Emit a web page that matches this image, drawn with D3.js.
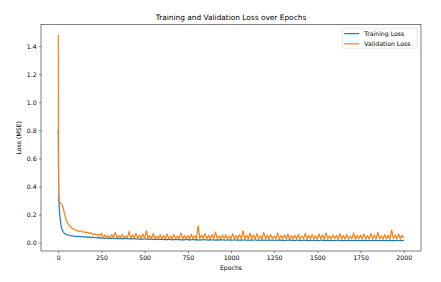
<!DOCTYPE html>
<html>
<head>
<meta charset="utf-8">
<script src="https://cdn.jsdelivr.net/npm/d3@7"></script>
<style>
  body { margin: 0; background: #fff; }
  text { font-family: "DejaVu Sans", sans-serif; fill: #000; }
</style>
</head>
<body>
<script>
// values
var earlyEpochs = [0, 1, 2, 3, 4, 5, 7, 10, 15, 20, 25, 30, 35, 40, 45, 50];
var epochs = earlyEpochs.concat(d3.range(60, 2001, 10));

var trainLoss = [
  0.81, 0.6, 0.45, 0.36, 0.3, 0.26, 0.22, 0.18, 0.13, 0.1, 0.085, 0.075, 0.068, 0.063, 0.06, 0.057,
  0.053, 0.05, 0.048, 0.046, 0.045, 0.043, 0.046, 0.041, 0.044, 0.04,
  0.042, 0.038, 0.041, 0.036, 0.039, 0.035, 0.037, 0.034, 0.036, 0.032,
  0.034, 0.03, 0.033, 0.029, 0.032, 0.03, 0.034, 0.028, 0.031, 0.029,
  0.03, 0.027, 0.031, 0.028, 0.03, 0.026, 0.029, 0.027, 0.03, 0.025,
  0.028, 0.025, 0.027, 0.024, 0.028, 0.025, 0.027, 0.023, 0.026, 0.024,
  0.025, 0.022, 0.026, 0.023, 0.025, 0.021, 0.024, 0.022, 0.025, 0.021,
  0.023, 0.02, 0.024, 0.021, 0.023, 0.019, 0.022, 0.02, 0.024, 0.02,
  0.022, 0.019, 0.023, 0.02, 0.022, 0.018, 0.021, 0.019, 0.023, 0.019,
  0.021, 0.018, 0.022, 0.019, 0.021, 0.018, 0.02, 0.018, 0.022, 0.019,
  0.02, 0.017, 0.021, 0.018, 0.02, 0.017, 0.021, 0.018, 0.02, 0.017,
  0.02, 0.017, 0.021, 0.017, 0.019, 0.016, 0.02, 0.017, 0.021, 0.017,
  0.019, 0.016, 0.02, 0.017, 0.019, 0.016, 0.02, 0.017, 0.019, 0.016,
  0.019, 0.016, 0.02, 0.016, 0.018, 0.015, 0.019, 0.016, 0.02, 0.016,
  0.018, 0.015, 0.019, 0.016, 0.018, 0.015, 0.019, 0.016, 0.018, 0.015,
  0.018, 0.015, 0.019, 0.015, 0.018, 0.014, 0.019, 0.016, 0.018, 0.015,
  0.018, 0.015, 0.018, 0.014, 0.017, 0.015, 0.019, 0.015, 0.018, 0.014,
  0.017, 0.014, 0.018, 0.015, 0.017, 0.014, 0.018, 0.015, 0.017, 0.014,
  0.017, 0.014, 0.018, 0.015, 0.017, 0.014, 0.018, 0.014, 0.017, 0.015,
  0.017, 0.014, 0.018, 0.014, 0.017, 0.015, 0.018, 0.014, 0.016, 0.014,
  0.017, 0.014, 0.018, 0.015, 0.016
];

var valLoss = [
  1.48, 0.8, 0.34, 0.31, 0.3, 0.3, 0.29, 0.285, 0.28, 0.275, 0.26, 0.24, 0.21, 0.185, 0.165, 0.148,
  0.13, 0.115, 0.105, 0.096, 0.09, 0.086, 0.08, 0.084, 0.075, 0.078,
  0.07, 0.074, 0.066, 0.07, 0.058, 0.064, 0.052, 0.06, 0.048, 0.066,
  0.034, 0.055, 0.036, 0.05, 0.033, 0.058, 0.037, 0.075, 0.034, 0.052,
  0.035, 0.06, 0.032, 0.049, 0.034, 0.08, 0.031, 0.054, 0.036, 0.066,
  0.031, 0.052, 0.033, 0.062, 0.03, 0.085, 0.032, 0.05, 0.029, 0.064,
  0.031, 0.046, 0.028, 0.056, 0.03, 0.05, 0.029, 0.062, 0.027, 0.048,
  0.03, 0.058, 0.028, 0.047, 0.031, 0.07, 0.027, 0.052, 0.029, 0.05,
  0.028, 0.06, 0.03, 0.05, 0.029, 0.122, 0.027, 0.055, 0.031, 0.066,
  0.028, 0.052, 0.029, 0.058, 0.027, 0.076, 0.03, 0.049, 0.028, 0.054,
  0.029, 0.055, 0.027, 0.046, 0.03, 0.063, 0.028, 0.05, 0.029, 0.057,
  0.027, 0.085, 0.029, 0.052, 0.028, 0.068, 0.03, 0.054, 0.027, 0.064,
  0.029, 0.049, 0.028, 0.074, 0.027, 0.052, 0.029, 0.057, 0.028, 0.047,
  0.03, 0.07, 0.027, 0.05, 0.029, 0.055, 0.028, 0.062, 0.026, 0.049,
  0.029, 0.053, 0.027, 0.06, 0.028, 0.047, 0.03, 0.066, 0.027, 0.052,
  0.028, 0.057, 0.029, 0.049, 0.026, 0.062, 0.028, 0.054, 0.027, 0.07,
  0.029, 0.048, 0.027, 0.055, 0.028, 0.052, 0.026, 0.064, 0.029, 0.05,
  0.027, 0.058, 0.028, 0.047, 0.029, 0.07, 0.027, 0.052, 0.028, 0.055,
  0.026, 0.062, 0.029, 0.05, 0.027, 0.066, 0.028, 0.054, 0.026, 0.074,
  0.029, 0.049, 0.027, 0.057, 0.028, 0.052, 0.026, 0.09, 0.029, 0.054,
  0.027, 0.062, 0.029, 0.052, 0.034
];

var xTicks = [0, 250, 500, 750, 1000, 1250, 1500, 1750, 2000];
var yTicks = [0.0, 0.2, 0.4, 0.6, 0.8, 1.0, 1.2, 1.4];
var seriesNames = ["Training Loss", "Validation Loss"];
var seriesColors = ["#1f77b4", "#ff7f0e"];

var width = 441, height = 282;
var plotLeft = 41, plotRight = 421, plotTop = 24.5, plotBottom = 251;
var fontSize = 6.2;
var tickLen = 2.2, tickPad = 2.2;

var svg = d3.select("body").append("svg")
    .attr("width", width)
    .attr("height", height);

// matplotlib style 5% margins
var xExt = d3.extent(epochs);
var xPad = (xExt[1] - xExt[0]) * 0.05;
var yExt = d3.extent(trainLoss.concat(valLoss));
var yPad = (yExt[1] - yExt[0]) * 0.05;

var x = d3.scaleLinear()
    .domain([xExt[0] - xPad, xExt[1] + xPad])
    .range([plotLeft, plotRight]);

var y = d3.scaleLinear()
    .domain([yExt[0] - yPad, yExt[1] + yPad])
    .range([plotBottom, plotTop]);

svg.append("clipPath").attr("id", "plotclip")
    .append("rect")
    .attr("x", plotLeft).attr("y", plotTop)
    .attr("width", plotRight - plotLeft).attr("height", plotBottom - plotTop);

var line = d3.line()
    .x(function (d) { return x(d[0]); })
    .y(function (d) { return y(d[1]); });

[trainLoss, valLoss].forEach(function (vals, i) {
    svg.append("path")
        .datum(epochs.map(function (e, j) { return [e, vals[j]]; }))
        .attr("clip-path", "url(#plotclip)")
        .attr("fill", "none")
        .attr("stroke", seriesColors[i])
        .attr("stroke-width", 1.2)
        .attr("stroke-linejoin", "round")
        .attr("d", line);
});

// axes
var xAxis = svg.append("g")
    .attr("transform", "translate(0," + plotBottom + ")")
    .call(d3.axisBottom(x).tickValues(xTicks).tickSize(tickLen).tickPadding(tickPad)
        .tickFormat(d3.format("d")));

var yAxis = svg.append("g")
    .attr("transform", "translate(" + plotLeft + ",0)")
    .call(d3.axisLeft(y).tickValues(yTicks).tickSize(tickLen).tickPadding(tickPad)
        .tickFormat(d3.format(".1f")));

[xAxis, yAxis].forEach(function (g) {
    g.select(".domain").remove();
    g.selectAll(".tick line").attr("stroke", "#000").attr("stroke-width", 0.45);
    g.selectAll(".tick text")
        .attr("font-size", fontSize)
        .attr("font-family", "DejaVu Sans")
        .attr("fill", "#000");
});

// frame
svg.append("rect")
    .attr("x", plotLeft).attr("y", plotTop)
    .attr("width", plotRight - plotLeft).attr("height", plotBottom - plotTop)
    .attr("fill", "none")
    .attr("stroke", "#000")
    .attr("stroke-width", 0.5);

// title and labels
svg.append("text")
    .attr("x", (plotLeft + plotRight) / 2)
    .attr("y", 19.6)
    .attr("text-anchor", "middle")
    .attr("font-size", 7.4)
    .text("Training and Validation Loss over Epochs");

svg.append("text")
    .attr("x", (plotLeft + plotRight) / 2)
    .attr("y", 269.8)
    .attr("text-anchor", "middle")
    .attr("font-size", fontSize)
    .text("Epochs");

svg.append("text")
    .attr("transform", "translate(20.6," + (plotTop + plotBottom) / 2 + ") rotate(-90)")
    .attr("text-anchor", "middle")
    .attr("font-size", fontSize)
    .text("Loss (MSE)");

// legend
var legend = svg.append("g");
legend.append("rect")
    .attr("x", 342.3).attr("y", 28.3)
    .attr("width", 75).attr("height", 20)
    .attr("rx", 1.2).attr("ry", 1.2)
    .attr("fill", "#fff")
    .attr("fill-opacity", 0.8)
    .attr("stroke", "#ccc")
    .attr("stroke-width", 0.45);

seriesNames.forEach(function (name, i) {
    var ly = 33.6 + i * 10.2;
    legend.append("line")
        .attr("x1", 344.2).attr("x2", 359.3)
        .attr("y1", ly).attr("y2", ly)
        .attr("stroke", seriesColors[i])
        .attr("stroke-width", 1.2);
    legend.append("text")
        .attr("x", 364.3)
        .attr("y", ly + 2.2)
        .attr("font-size", fontSize)
        .text(name);
});
</script>
</body>
</html>
